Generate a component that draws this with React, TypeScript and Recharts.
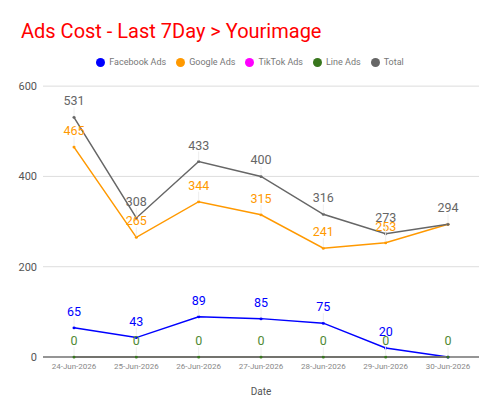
import React from "react";
import { LineChart, Line, XAxis, YAxis, CartesianGrid, Legend, LabelList } from "recharts";

const dates = ["24-Jun-2026", "25-Jun-2026", "26-Jun-2026", "27-Jun-2026", "28-Jun-2026", "29-Jun-2026", "30-Jun-2026"];
const facebookAds = [65, 43, 89, 85, 75, 20, 0];
const googleAds = [465, 265, 344, 315, 241, 253, 294];
const tiktokAds = [0, 0, 0, 0, 0, 0, 0];
const lineAds = [0, 0, 0, 0, 0, 0, 0];
const total = [531, 308, 433, 400, 316, 273, 294];
const yTicks = [0, 200, 400, 600];
const legendOrder = ["Facebook Ads", "Google Ads", "TikTok Ads", "Line Ads", "Total"];

const data = dates.map((d, i) => ({
  date: d,
  facebook: facebookAds[i],
  google: googleAds[i],
  tiktok: tiktokAds[i],
  line: lineAds[i],
  total: total[i],
}));

const FONT = "Roboto, 'Noto Sans', sans-serif";

const makeLabel = (color: string, skip: number[]) => (props: any) => {
  const { x, y, value, index } = props;
  if (skip.includes(index)) return null;
  return (
    <g>
      <line x1={x} x2={x} y1={y - 1} y2={y - 10} stroke="#eeeeee" strokeWidth={1} />
      <text x={x} y={y - 12} fill={color} fontSize={12.5} fontFamily={FONT} textAnchor="middle">
        {value}
      </text>
    </g>
  );
};

export default function App() {
  return (
    <div style={{ position: "absolute", left: 0, top: 0, width: 500, height: 415, background: "#fff", fontFamily: FONT }}>
      <div style={{ position: "absolute", left: 21, top: 19, fontSize: 20, color: "#ff0000", fontFamily: FONT, lineHeight: "24px" }}>
        Ads Cost - Last 7Day &gt; Yourimage
      </div>
      <LineChart width={500} height={415} data={data} margin={{ top: 76, right: 21, left: 0, bottom: 0 }}>
        <CartesianGrid vertical={false} stroke="#dddddd" />
        <XAxis
          dataKey="date"
          padding={{ left: 31, right: 31 }}
          height={58}
          tickLine={false}
          tickSize={4}
          tickMargin={2}
          axisLine={{ stroke: "#777777", strokeWidth: 1.5 }}
          tick={{ fontSize: 8, fill: "#888888", fontFamily: FONT }}
          interval={0}
          label={{ value: "Date", position: "insideBottom", offset: 20, fontSize: 10, fill: "#555555", fontFamily: FONT }}
        />
        <YAxis
          domain={[0, 600]}
          ticks={yTicks}
          width={43}
          axisLine={false}
          tickLine={false}
          tickSize={4}
          tickMargin={2}
          tick={{ fontSize: 11, fill: "#555555", fontFamily: FONT }}
        />
        <Legend
          verticalAlign="top"
          align="center"
          iconType="circle"
          iconSize={9}
          itemSorter={(item: any) => legendOrder.indexOf(item.value)}
          wrapperStyle={{ top: 57, left: 5, width: 500, fontSize: 9, fontFamily: FONT, color: "#777777" }}
          formatter={(v: string) => <span style={{ color: "#777777" }}>{v}</span>}
        />
        <Line dataKey="facebook" name="Facebook Ads" stroke="#0000ff" strokeWidth={1.5} dot={{ r: 1.5, fill: "#0000ff", strokeWidth: 0 }} isAnimationActive={false}>
          <LabelList dataKey="facebook" content={makeLabel("#0000ff", [6])} />
        </Line>
        <Line dataKey="google" name="Google Ads" stroke="#ff9900" strokeWidth={1.5} dot={{ r: 1.5, fill: "#ff9900", strokeWidth: 0 }} isAnimationActive={false}>
          <LabelList dataKey="google" content={makeLabel("#ff9900", [6])} />
        </Line>
        <Line dataKey="tiktok" name="TikTok Ads" stroke="#ff00ff" strokeWidth={1.5} dot={false} isAnimationActive={false} />
        <Line dataKey="line" name="Line Ads" stroke="#38761d" strokeWidth={1.5} dot={{ r: 1.5, fill: "#38761d", strokeWidth: 0 }} isAnimationActive={false}>
          <LabelList dataKey="line" content={makeLabel("#4f8a35", [])} />
        </Line>
        <Line dataKey="total" name="Total" stroke="#666666" strokeWidth={1.5} dot={{ r: 1.5, fill: "#666666", strokeWidth: 0 }} isAnimationActive={false}>
          <LabelList dataKey="total" content={makeLabel("#666666", [])} />
        </Line>
      </LineChart>
    </div>
  );
}
